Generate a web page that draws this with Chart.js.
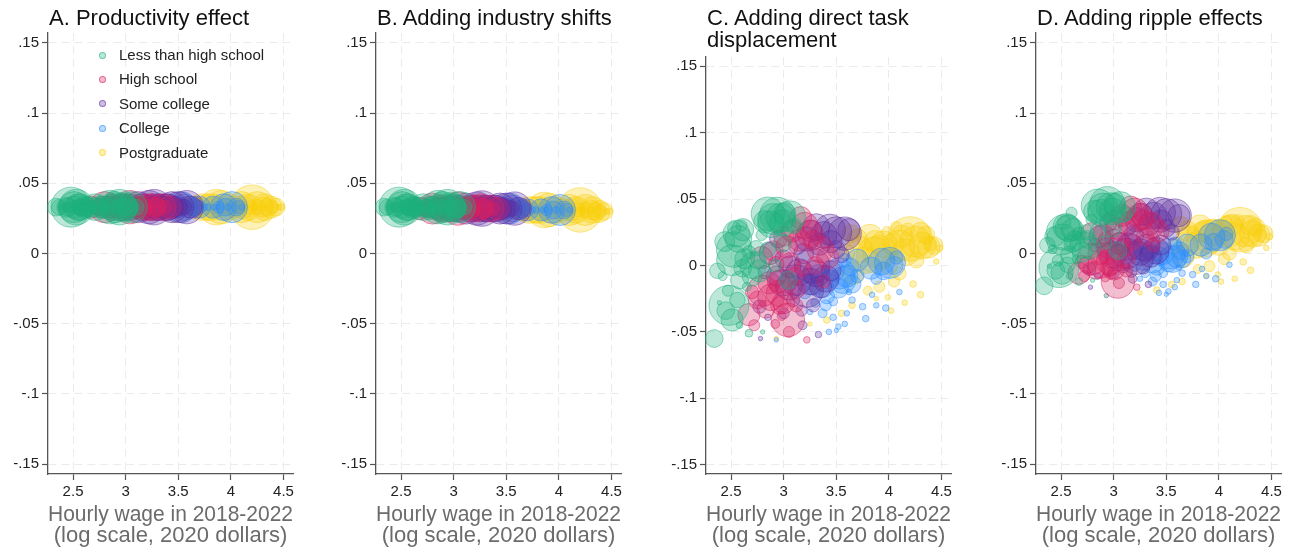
<!DOCTYPE html>
<html>
<head>
<meta charset="utf-8">
<script src="https://cdn.jsdelivr.net/npm/chart.js@4.4.1/dist/chart.umd.min.js"></script>
<style>
body { margin: 0; background: #fff; font-family: "Liberation Sans", Arial, Helvetica, sans-serif; }
.panel { position: absolute; top: 0; width: 325px; height: 551px; }
.ptitle { position: absolute; top: 7px; font-size: 22px; line-height: 21.5px; color: #111; white-space: nowrap; }
.legend { position: absolute; left: 95px; top: 43px; font-size: 15px; color: #222; }
.legend div { height: 24.4px; line-height: 24.4px; white-space: nowrap; }
.legend span { display: inline-block; width: 5px; height: 5px; border-radius: 50%; margin: 0 13px 2px 4px; vertical-align: middle; }
</style>
</head>
<body>
<div class="panel" id="pA" style="left:1px"><canvas id="cA" width="325" height="551"></canvas></div>
<div class="panel" id="pB" style="left:329px"><canvas id="cB" width="325" height="551"></canvas></div>
<div class="panel" id="pC" style="left:659px"><canvas id="cC" width="325" height="551"></canvas></div>
<div class="panel" id="pD" style="left:989px"><canvas id="cD" width="325" height="551"></canvas></div>
<div class="ptitle" style="left:49px">A. Productivity effect</div>
<div class="ptitle" style="left:377px">B. Adding industry shifts</div>
<div class="ptitle" style="left:707px">C. Adding direct task<br>displacement</div>
<div class="ptitle" style="left:1037px">D. Adding ripple effects</div>
<div class="legend" id="legend"></div>
<script>
// axis ticks
const xTicks = [2.5, 3, 3.5, 4, 4.5];
const xTickLabels = ['2.5', '3', '3.5', '4', '4.5'];
const yTicks = [-0.15, -0.1, -0.05, 0, 0.05, 0.1, 0.15];
const yTickLabels = ['-.15', '-.1', '-.05', '0', '.05', '.1', '.15'];

const groupNames = ['Less than high school', 'High school', 'Some college', 'College', 'Postgraduate'];

// Less than high school: log wage, employment weight, effect in panels A-D
const lthsWage = [2.94, 2.85, 3.06, 2.99, 2.88, 2.55, 2.61, 2.44, 2.51, 2.37, 2.61, 2.71, 2.77, 2.58, 2.48, 2.51, 2.34, 2.47, 2.67, 2.39, 2.80, 2.75, 2.67, 2.79, 2.99, 3.04,
    2.53, 2.57, 2.90, 2.97, 2.82, 3.01, 2.63, 2.70, 2.74, 2.45, 2.56, 2.60, 2.53, 2.85, 2.92, 2.65, 2.42, 2.58, 3.10];
const lthsWeight = [3.16, 2.78, 2.42, 1.78, 1.78, 1.78, 1.23, 1.0, 2.42, 0.60, 0.79, 1.78, 1.23, 0.79, 4.0, 1.23, 0.79, 0.31, 0.15, 0.05, 0.05, 0.79, 0.44, 0.31, 0.79, 0.79,
    3.16, 1.78, 2.42, 2.09, 1.23, 1.23, 1.0, 1.0, 0.60, 0.79, 0.60, 0.31, 0.44, 0.60, 0.44, 0.20, 0.20, 0.11, 0.60];
const lthsA = [0.033, 0.033, 0.033, 0.033, 0.033, 0.033, 0.033, 0.033, 0.033, 0.033, 0.033, 0.033, 0.033, 0.033, 0.033, 0.033, 0.033, 0.033, 0.033, 0.033, 0.033, 0.033, 0.033, 0.033, 0.033, 0.033,
    0.033, 0.033, 0.033, 0.033, 0.033, 0.033, 0.033, 0.033, 0.033, 0.033, 0.033, 0.033, 0.033, 0.033, 0.033, 0.033, 0.033, 0.033, 0.033];
const lthsB = [0.033, 0.033, 0.033, 0.033, 0.033, 0.033, 0.033, 0.033, 0.033, 0.033, 0.033, 0.033, 0.032, 0.033, 0.033, 0.033, 0.033, 0.033, 0.032, 0.033, 0.032, 0.032, 0.032, 0.032, 0.032, 0.032,
    0.033, 0.033, 0.033, 0.033, 0.033, 0.033, 0.033, 0.033, 0.033, 0.033, 0.033, 0.033, 0.033, 0.033, 0.033, 0.033, 0.033, 0.033, 0.033];
const lthsC = [0.038, 0.039, 0.037, 0.032, 0.031, 0.024, 0.027, 0.018, 0.004, -0.004, -0.002, 0.000, -0.004, -0.011, -0.030, -0.041, -0.055, -0.019, -0.051, -0.028, -0.050, 0.004, 0.010, 0.023, 0.017, -0.011,
    0.012, 0.020, 0.035, 0.036, 0.033, 0.039, 0.005, -0.008, 0.013, -0.034, -0.026, 0.030, 0.028, 0.012, 0.000, -0.016, -0.008, -0.045, 0.030];
const lthsD = [0.035, 0.034, 0.033, 0.030, 0.029, 0.019, 0.017, 0.012, 0.010, 0.006, 0.007, 0.006, 0.004, -0.001, -0.010, -0.014, -0.023, -0.005, -0.020, -0.009, -0.019, 0.010, 0.014, 0.024, 0.018, 0.002,
    0.015, 0.018, 0.032, 0.033, 0.030, 0.035, 0.009, 0.001, 0.015, -0.012, -0.008, 0.029, 0.022, 0.016, 0.008, -0.004, 0.003, -0.016, 0.028];

// High school
const hsWage = [3.16, 3.25, 3.15, 3.03, 2.90, 2.80, 2.96, 3.04, 2.67, 2.92, 2.75, 2.96, 2.86, 2.79, 3.06, 3.22, 3.35, 3.42, 3.10, 3.12, 2.72,
    3.20, 3.08, 3.00, 2.95, 2.88, 3.00, 2.83, 3.12, 2.93, 3.28, 3.18, 2.70, 3.30, 3.38, 2.98, 3.05];
const hsWeight = [1.23, 1.78, 1.23, 1.23, 1.0, 2.42, 1.78, 2.78, 1.23, 0.20, 0.79, 0.79, 1.23, 1.23, 1.0, 0.11, 1.78, 1.23, 0.79, 0.44, 0.31,
    1.78, 1.23, 1.0, 1.23, 1.78, 1.23, 0.79, 0.79, 0.60, 1.0, 0.60, 0.44, 0.79, 0.44, 0.20, 0.31];
const hsA = [0.033, 0.033, 0.033, 0.033, 0.033, 0.033, 0.033, 0.033, 0.033, 0.033, 0.033, 0.033, 0.033, 0.033, 0.033, 0.033, 0.033, 0.033, 0.033, 0.033, 0.033,
    0.033, 0.033, 0.033, 0.033, 0.033, 0.033, 0.033, 0.033, 0.033, 0.033, 0.033, 0.033, 0.033, 0.033, 0.033, 0.033];
const hsB = [0.033, 0.033, 0.032, 0.033, 0.033, 0.032, 0.032, 0.032, 0.032, 0.032, 0.032, 0.032, 0.032, 0.033, 0.032, 0.031, 0.032, 0.032, 0.032, 0.032, 0.032,
    0.032, 0.032, 0.032, 0.032, 0.032, 0.032, 0.032, 0.032, 0.032, 0.032, 0.032, 0.032, 0.032, 0.032, 0.032, 0.032];
const hsC = [0.036, 0.024, 0.019, 0.014, 0.011, -0.019, -0.021, -0.041, -0.037, -0.044, -0.026, -0.030, -0.013, 0.006, 0.002, -0.056, 0.012, 0.006, -0.008, -0.030, -0.045,
    0.030, 0.026, 0.022, -0.012, -0.024, -0.028, -0.033, -0.018, 0.001, 0.019, -0.002, -0.020, 0.000, -0.012, -0.038, -0.050];
const hsD = [0.033, 0.026, 0.022, 0.018, 0.014, -0.004, -0.006, -0.020, -0.014, -0.017, -0.008, -0.010, 0.000, 0.014, 0.008, -0.024, 0.020, 0.016, 0.004, -0.012, -0.016,
    0.030, 0.027, 0.024, 0.000, -0.008, -0.011, -0.012, -0.004, 0.010, 0.024, 0.008, -0.006, 0.012, 0.006, -0.015, -0.021];

// Some college
const scWage = [3.58, 3.44, 3.31, 3.22, 3.34, 2.99, 3.12, 3.22, 3.31, 2.87, 3.06, 3.19, 2.77, 3.17, 2.85, 3.33, 2.78, 3.09, 3.40, 3.27, 2.95, 3.50,
    3.50, 3.38, 3.26, 3.45, 3.15, 3.05, 3.25, 3.35, 2.93, 3.00, 3.13, 3.45, 2.82, 3.28, 3.00, 3.55, 3.62, 3.18];
const scWeight = [2.78, 2.42, 1.78, 1.49, 1.23, 1.78, 2.42, 2.78, 1.78, 1.23, 1.23, 1.0, 0.44, 0.31, 0.11, 0.11, 0.05, 0.44, 1.78, 3.16, 0.79, 0.79,
    2.42, 1.78, 1.23, 1.23, 1.78, 1.78, 1.78, 1.23, 1.0, 0.79, 0.79, 1.0, 0.44, 0.44, 0.31, 0.60, 1.23, 0.20];
const scA = [0.033, 0.033, 0.033, 0.033, 0.033, 0.033, 0.033, 0.033, 0.033, 0.033, 0.033, 0.033, 0.033, 0.033, 0.033, 0.033, 0.033, 0.033, 0.033, 0.033, 0.033, 0.033,
    0.033, 0.033, 0.033, 0.033, 0.033, 0.033, 0.033, 0.033, 0.033, 0.033, 0.033, 0.033, 0.033, 0.033, 0.033, 0.033, 0.033, 0.033];
const scB = [0.032, 0.032, 0.032, 0.032, 0.032, 0.032, 0.032, 0.032, 0.032, 0.032, 0.032, 0.032, 0.032, 0.032, 0.032, 0.032, 0.032, 0.032, 0.032, 0.032, 0.032, 0.032,
    0.032, 0.032, 0.032, 0.032, 0.032, 0.032, 0.032, 0.032, 0.032, 0.032, 0.032, 0.032, 0.032, 0.032, 0.032, 0.032, 0.032, 0.032];
const scC = [0.024, 0.027, 0.029, 0.020, 0.016, -0.013, -0.011, -0.019, -0.006, 0.009, -0.001, 0.009, -0.031, -0.034, -0.039, -0.052, -0.055, -0.026, -0.010, 0.000, 0.020, 0.012,
    0.025, 0.023, 0.026, 0.018, -0.005, -0.016, -0.012, -0.016, -0.008, 0.005, 0.015, -0.004, -0.005, -0.030, -0.036, 0.008, 0.027, -0.045];
const scD = [0.027, 0.029, 0.030, 0.024, 0.021, -0.001, 0.000, -0.003, 0.004, 0.012, 0.007, 0.013, -0.011, -0.013, -0.016, -0.022, -0.024, -0.009, 0.002, 0.008, 0.022, 0.018,
    0.028, 0.027, 0.028, 0.023, 0.005, -0.003, 0.001, -0.002, 0.004, 0.011, 0.019, 0.006, 0.006, -0.010, -0.014, 0.015, 0.027, -0.018];

// College
const colWage = [3.56, 3.47, 3.63, 3.37, 3.28, 3.41, 4.01, 3.93, 4.07, 3.75, 3.88, 3.47, 3.37, 3.60, 3.47, 3.58, 3.84, 3.52, 3.50, 2.93, 3.88, 3.70, 3.53, 3.20,
    3.60, 3.52, 3.65, 3.44, 3.33, 3.58, 3.70, 3.95, 4.05, 3.83, 3.40, 3.30, 3.65, 3.78, 3.43, 3.97, 3.62, 3.25, 4.10];
const colWeight = [1.78, 1.23, 0.79, 1.23, 1.23, 0.60, 2.42, 1.78, 0.44, 0.11, 0.08, 0.20, 0.20, 0.08, 0.11, 0.08, 0.08, 0.08, 0.05, 0.05, 0.31, 1.23, 2.42, 0.44,
    1.23, 1.0, 0.79, 0.79, 0.79, 0.44, 0.44, 0.79, 0.79, 1.23, 0.31, 0.20, 0.11, 0.11, 0.08, 0.11, 0.08, 0.08, 0.08];
const colA = [0.033, 0.033, 0.033, 0.033, 0.033, 0.033, 0.033, 0.033, 0.033, 0.033, 0.033, 0.033, 0.033, 0.033, 0.033, 0.033, 0.033, 0.033, 0.033, 0.033, 0.033, 0.033, 0.033, 0.033,
    0.033, 0.033, 0.033, 0.033, 0.033, 0.033, 0.033, 0.033, 0.033, 0.033, 0.033, 0.033, 0.033, 0.033, 0.033, 0.033, 0.033, 0.033, 0.033];
const colB = [0.032, 0.032, 0.032, 0.032, 0.032, 0.032, 0.031, 0.031, 0.031, 0.031, 0.031, 0.032, 0.032, 0.032, 0.032, 0.032, 0.031, 0.032, 0.032, 0.032, 0.031, 0.031, 0.032, 0.032,
    0.032, 0.032, 0.032, 0.032, 0.032, 0.032, 0.031, 0.031, 0.031, 0.031, 0.032, 0.032, 0.032, 0.031, 0.032, 0.031, 0.032, 0.032, 0.031];
const colC = [-0.011, -0.004, -0.001, -0.016, -0.014, -0.023, 0.002, 0.003, 0.006, -0.031, -0.030, -0.027, -0.036, -0.036, -0.039, -0.044, -0.022, -0.046, -0.049, -0.056, -0.010, 0.004, -0.006, -0.020,
    -0.008, -0.017, -0.014, -0.010, -0.006, 0.004, -0.008, -0.004, 0.000, -0.002, -0.030, -0.028, -0.026, -0.040, -0.050, -0.032, -0.020, -0.035, -0.020];
const colD = [-0.004, 0.000, 0.002, -0.006, -0.004, -0.010, 0.013, 0.012, 0.014, -0.015, -0.016, -0.014, -0.020, -0.019, -0.022, -0.024, -0.011, -0.027, -0.029, -0.030, 0.000, 0.006, 0.000, -0.008,
    -0.002, -0.006, -0.004, -0.002, 0.002, 0.007, -0.002, 0.008, 0.010, 0.006, -0.016, -0.014, -0.014, -0.022, -0.028, -0.018, -0.010, -0.018, -0.008];

// Postgraduate
const pgWage = [3.82, 3.91, 3.72, 4.20, 4.32, 4.39, 4.48, 4.07, 3.98, 4.26, 4.10, 3.66, 3.91, 3.99, 4.23, 3.65, 4.15, 3.88, 3.41, 3.25, 2.93, 3.86, 4.16, 4.04, 3.64, 4.30,
    3.78, 3.95, 4.10, 4.25, 4.38, 4.43, 3.70, 4.00, 4.12, 3.87, 4.35, 3.60, 4.18, 4.05, 3.80, 4.30, 4.45, 3.55, 4.02];
const pgWeight = [1.78, 2.78, 1.78, 4.94, 1.78, 0.44, 0.11, 0.31, 0.20, 0.60, 0.44, 1.23, 0.31, 0.08, 0.11, 0.11, 0.08, 0.05, 0.11, 0.05, 0.05, 3.16, 1.78, 1.23, 0.79, 1.0,
    1.78, 1.78, 2.42, 2.42, 1.23, 0.79, 1.0, 0.79, 1.23, 1.23, 0.79, 0.60, 0.44, 0.31, 0.20, 0.11, 0.08, 0.11, 0.08];
const pgA = [0.033, 0.033, 0.033, 0.033, 0.033, 0.033, 0.033, 0.033, 0.033, 0.033, 0.033, 0.033, 0.033, 0.033, 0.033, 0.033, 0.033, 0.033, 0.033, 0.033, 0.033, 0.033, 0.033, 0.033, 0.033, 0.033,
    0.033, 0.033, 0.033, 0.033, 0.033, 0.033, 0.033, 0.033, 0.033, 0.033, 0.033, 0.033, 0.033, 0.033, 0.033, 0.033, 0.033, 0.033, 0.033];
const pgB = [0.031, 0.031, 0.031, 0.031, 0.031, 0.030, 0.030, 0.031, 0.031, 0.031, 0.031, 0.031, 0.031, 0.031, 0.031, 0.031, 0.031, 0.031, 0.032, 0.032, 0.032, 0.031, 0.031, 0.031, 0.031, 0.031,
    0.031, 0.031, 0.031, 0.031, 0.030, 0.030, 0.031, 0.031, 0.031, 0.031, 0.030, 0.031, 0.031, 0.031, 0.031, 0.031, 0.030, 0.031, 0.031];
const pgC = [0.021, 0.010, 0.012, 0.020, 0.015, 0.016, 0.013, 0.029, 0.026, 0.004, -0.006, -0.006, -0.016, -0.024, -0.014, -0.030, -0.028, -0.025, -0.041, -0.044, -0.055, 0.008, 0.010, 0.016, 0.024, 0.025,
    0.004, 0.016, 0.015, 0.018, 0.014, 0.015, 0.020, 0.000, 0.022, 0.018, 0.023, 0.010, 0.027, -0.012, -0.019, -0.022, 0.003, -0.036, -0.034];
const pgD = [0.018, 0.012, 0.010, 0.017, 0.014, 0.013, 0.012, 0.023, 0.021, 0.006, 0.000, -0.002, -0.009, -0.015, -0.006, -0.020, -0.018, -0.016, -0.026, -0.028, -0.030, 0.010, 0.012, 0.016, 0.020, 0.020,
    0.006, 0.015, 0.016, 0.016, 0.013, 0.014, 0.016, 0.005, 0.020, 0.016, 0.019, 0.006, 0.023, -0.004, -0.011, -0.012, 0.004, -0.022, -0.020];

const colors = [[27, 176, 124], [216, 30, 96], [92, 44, 160], [43, 140, 255], [248, 206, 12]];

const groups = [
    {wage: lthsWage, weight: lthsWeight, A: lthsA, B: lthsB, C: lthsC, D: lthsD},
    {wage: hsWage, weight: hsWeight, A: hsA, B: hsB, C: hsC, D: hsD},
    {wage: scWage, weight: scWeight, A: scA, B: scB, C: scC, D: scD},
    {wage: colWage, weight: colWeight, A: colA, B: colB, C: colC, D: colD},
    {wage: pgWage, weight: pgWeight, A: pgA, B: pgB, C: pgC, D: pgD}
];

function rgba(c, a) { return `rgba(${c[0]},${c[1]},${c[2]},${a})`; }
function radius(w) { return 10 * Math.sqrt(w); }

// legend (panel A)
const legendEl = document.getElementById('legend');
groupNames.forEach((name, i) => {
    const row = document.createElement('div');
    row.innerHTML = `<span style="background:${rgba(colors[i], 0.3)};border:1px solid ${rgba(colors[i], 0.55)}"></span>${name}`;
    legendEl.appendChild(row);
});

const gridOpts = {color: '#ebebeb', lineWidth: 1, tickColor: '#555', tickLength: 6, tickWidth: 1.2};
const borderOpts = {color: '#555', width: 1.3, dash: [8, 5]};

function makePanel(canvasId, key, padTop) {
    const datasets = groups.map((g, gi) => ({
        label: groupNames[gi],
        data: g.wage.map((x, i) => ({x: x, y: g[key][i], r: radius(g.weight[i])})),
        backgroundColor: rgba(colors[gi], 0.29),
        borderColor: rgba(colors[gi], 0.48),
        borderWidth: 1,
        clip: false
    }));
    new Chart(document.getElementById(canvasId), {
        type: 'bubble',
        data: {datasets: datasets},
        options: {
            responsive: false,
            animation: false,
            devicePixelRatio: 1,
            layout: {padding: {top: padTop, right: 33, bottom: 0, left: 0}},
            plugins: {legend: {display: false}, tooltip: {enabled: false}},
            scales: {
                x: {
                    type: 'linear', min: 2.262, max: 4.59,
                    afterBuildTicks: a => { a.ticks = xTicks.map(v => ({value: v})); },
                    afterFit: a => { a.height = 77; },
                    ticks: {callback: (v, i) => xTickLabels[i], color: '#222', font: {size: 15}, padding: 3, maxRotation: 0, autoSkip: false},
                    grid: gridOpts,
                    border: borderOpts,
                    title: {
                        display: true,
                        text: ['Hourly wage in 2018-2022', '(log scale, 2020 dollars)'],
                        color: '#6b6b6b',
                        font: {size: 22, lineHeight: 0.98},
                        padding: {top: 0, bottom: 4}
                    }
                },
                y: {
                    type: 'linear', min: -0.157, max: 0.157,
                    afterBuildTicks: a => { a.ticks = yTicks.map(v => ({value: v})); },
                    afterFit: a => { a.width = 47; },
                    ticks: {callback: (v, i) => yTickLabels[i], color: '#222', font: {size: 15}, padding: 3, autoSkip: false},
                    grid: gridOpts,
                    border: borderOpts
                }
            }
        }
    });
}

Chart.defaults.font.family = '"Liberation Sans", Arial, Helvetica, sans-serif';
makePanel('cA', 'A', 33);
makePanel('cB', 'B', 33);
makePanel('cC', 'C', 57);
makePanel('cD', 'D', 33);
</script>
</body>
</html>
